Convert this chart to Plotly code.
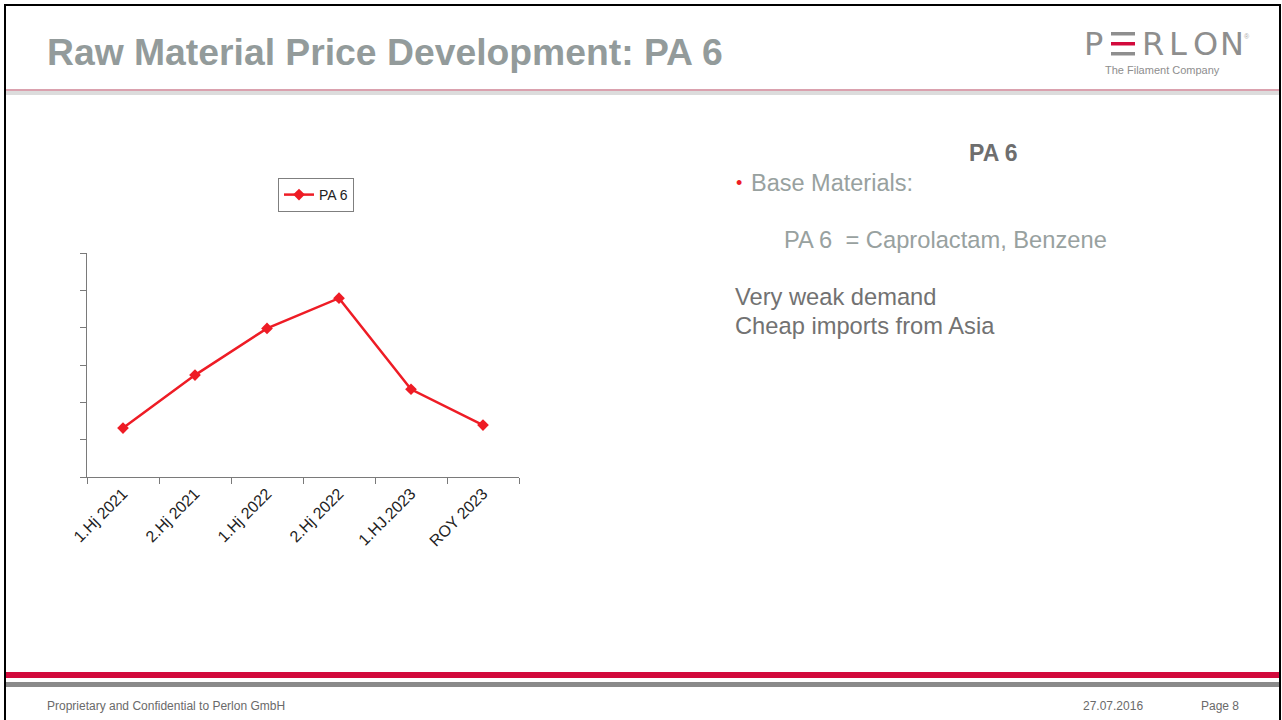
import plotly.graph_objects as go

categories = ["1.Hj 2021", "2.Hj 2021", "1.Hj 2022", "2.Hj 2022", "1.HJ.2023", "ROY 2023"]
pa6_values = [1.31, 2.73, 3.98, 4.79, 2.35, 1.39]
series_name = "PA 6"

W, H = 1282, 720
FONT = "Liberation Sans, Arial, sans-serif"
RED = "#ee1c25"

def px(x):
    return x / W

def py(y):
    return 1 - y / H

fig = go.Figure()
fig.add_trace(go.Scatter(
    x=categories, y=pa6_values, mode="lines+markers", name=series_name,
    line=dict(color=RED, width=2.5),
    marker=dict(symbol="diamond", size=9, color=RED),
))

shapes = []
# slide border (top, left, right)
shapes.append(dict(type="line", xref="paper", yref="paper", x0=px(5), x1=px(5), y0=py(5), y1=py(720), line=dict(color="black", width=2)))
shapes.append(dict(type="line", xref="paper", yref="paper", x0=px(4), x1=px(1281), y0=py(5), y1=py(5), line=dict(color="black", width=2)))
shapes.append(dict(type="line", xref="paper", yref="paper", x0=px(1280), x1=px(1280), y0=py(5), y1=py(720), line=dict(color="black", width=2)))
# header rule
shapes.append(dict(type="rect", xref="paper", yref="paper", x0=px(6), x1=px(1279), y0=py(95), y1=py(91), fillcolor="#dcdcdc", line=dict(width=0), layer="below"))
shapes.append(dict(type="line", xref="paper", yref="paper", x0=px(6), x1=px(1279), y0=py(90), y1=py(90), line=dict(color="#b5455e", width=1.2)))
# footer bands
shapes.append(dict(type="rect", xref="paper", yref="paper", x0=px(6), x1=px(1279), y0=py(678), y1=py(672), fillcolor="#d20a3c", line=dict(width=0)))
shapes.append(dict(type="rect", xref="paper", yref="paper", x0=px(6), x1=px(1279), y0=py(687), y1=py(682), fillcolor="#8a8a8a", line=dict(width=0)))
# logo E bars
for yy, col in [(32, "#8e8e8e"), (42, "#d20a3c"), (52, "#8e8e8e")]:
    shapes.append(dict(type="rect", xref="paper", yref="paper", x0=px(1111), x1=px(1135), y0=py(yy + 3.5), y1=py(yy), fillcolor=col, line=dict(width=0)))

annotations = []
def txt(x, y, s, size, color, bold=False, xanchor="left", family=FONT):
    annotations.append(dict(
        x=px(x), y=py(y), xref="paper", yref="paper", text=("<b>%s</b>" % s) if bold else s,
        showarrow=False, xanchor=xanchor, yanchor="middle",
        font=dict(family=family, size=size, color=color),
    ))

txt(45, 52, "Raw Material Price Development: PA 6", 37.3, "#939b9b", bold=True)
# logo
LOGO = "DejaVu Sans, sans-serif"
for lx, ch in [(1093, "P"), (1153, "R"), (1178, "L"), (1205, "O"), (1232, "N")]:
    txt(lx, 44, ch, 32, "#8e8e8e", xanchor="center", family=LOGO)
txt(1247, 36, "®", 7, "#aaaaaa", xanchor="center")
txt(1162, 70, "The Filament Company", 11, "#8e8e8e", xanchor="center")
# right text block
txt(993, 153, "PA 6", 23, "#6e6e6e", bold=True, xanchor="center")
txt(734, 183, "•", 18, RED)
txt(749, 183, "Base Materials:", 23.5, "#98a19f")
txt(782, 240, "PA 6&nbsp;&nbsp;= Caprolactam, Benzene", 23.7, "#98a19f")
txt(733, 297, "Very weak demand", 23.7, "#727272")
txt(733, 326, "Cheap imports from Asia", 23.7, "#727272")
# footer
txt(45, 706, "Proprietary and Confidential to Perlon GmbH", 12, "#6a6a6a")
txt(1145, 706, "27.07.2016", 12, "#6a6a6a", xanchor="right")
txt(1241, 706, "Page 8", 12, "#6a6a6a", xanchor="right")

fig.update_layout(
    width=W, height=H, margin=dict(l=0, r=0, t=0, b=0, pad=0, autoexpand=False),
    paper_bgcolor="white", plot_bgcolor="white",
    font=dict(family=FONT, color="#222222"),
    showlegend=True,
    legend=dict(x=px(316), y=py(195), xanchor="center", yanchor="middle",
                bordercolor="#7f7f7f", borderwidth=1, bgcolor="white",
                font=dict(size=14, color="#222222"), itemwidth=30,
                tracegroupgap=0),
    xaxis=dict(domain=[px(87), px(519)], type="category", range=[-0.5, 5.5],
               showline=True, linecolor="#7a7a7a", linewidth=1, automargin=False,
               ticks="outside", tickson="boundaries", ticklen=6, tickcolor="#7a7a7a",
               tickangle=-45, tickfont=dict(size=16, color="#222222"),
               showgrid=False, zeroline=False, fixedrange=True),
    yaxis=dict(domain=[py(477), py(253)], range=[0, 6], dtick=1, tick0=0,
               showline=True, linecolor="#7a7a7a", linewidth=1, automargin=False,
               ticks="outside", ticklen=6, tickcolor="#7a7a7a",
               showticklabels=False, showgrid=False, zeroline=False, fixedrange=True),
    shapes=shapes, annotations=annotations,
)

fig.write_html("out.html", config={"displayModeBar": False},
               post_script="document.body.style.margin='0';document.body.style.padding='0';document.body.style.overflow='hidden';")
